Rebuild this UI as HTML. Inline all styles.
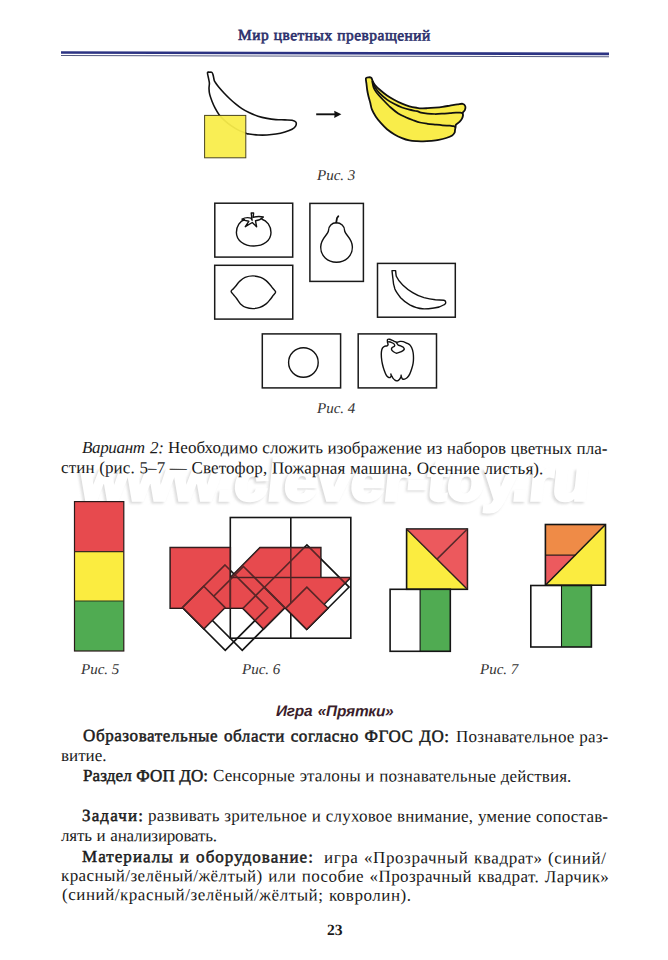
<!DOCTYPE html>
<html><head><meta charset="utf-8"><title>page</title>
<style>
html,body{margin:0;padding:0;background:#fff;}
body{width:668px;height:960px;position:relative;overflow:hidden;}
.t{position:absolute;white-space:nowrap;}

svg{position:absolute;left:0;top:0;}
b{font-weight:bold;}
</style></head><body>
<div class="t" style="left:77.4px;top:451.7px;font-family:'Liberation Sans', sans-serif;font-size:57px;font-weight:bold;font-style:normal;color:#dcdcdc;line-height:60px;-webkit-text-stroke:3.5px #dcdcdc;letter-spacing:0px;filter:blur(1.2px);transform:matrix(1.05,0,-0.1,1,0,0);transform-origin:0 49.75px;">www.clever-toy.ru</div>
<div class="t" style="left:79.0px;top:450.3px;font-family:'Liberation Sans', sans-serif;font-size:57px;font-weight:bold;font-style:normal;color:#ffffff;line-height:60px;-webkit-text-stroke:3.5px #ffffff;letter-spacing:0px;transform:matrix(1.05,0,-0.1,1,0,0);transform-origin:0 49.75px;">www.clever-toy.ru</div>
<svg width="668" height="960" viewBox="0 0 668 960">
<polygon points="61,51.2 609,52.6 609,55.2 61,53.8" fill="#2c3383"/>
<polygon points="61,54.9 609,56.3 609,57.3 61,55.9" fill="#555a80"/>
<path d="M207.50,72.60 C207.70,71.52 209.05,72.22 209.80,72.20 C210.55,72.18 211.45,72.03 212.00,72.50 C212.55,72.97 212.73,73.72 213.10,75.00 C213.47,76.28 213.85,79.00 214.20,80.20 C214.55,81.40 214.45,81.07 215.20,82.20 C215.95,83.33 217.23,85.20 218.70,87.00 C220.17,88.80 222.12,91.00 224.00,93.00 C225.88,95.00 228.02,97.13 230.00,99.00 C231.98,100.87 233.92,102.58 235.90,104.20 C237.88,105.82 239.72,107.30 241.90,108.70 C244.08,110.10 246.32,111.35 249.00,112.60 C251.68,113.85 255.00,115.23 258.00,116.20 C261.00,117.17 264.02,117.83 267.00,118.40 C269.98,118.97 272.92,119.35 275.90,119.60 C278.88,119.85 282.20,119.78 284.90,119.90 C287.60,120.02 290.27,119.92 292.10,120.30 C293.93,120.68 295.32,121.23 295.90,122.20 C296.48,123.17 296.23,124.93 295.60,126.10 C294.97,127.27 293.88,128.23 292.10,129.20 C290.32,130.17 287.60,131.10 284.90,131.90 C282.20,132.70 278.88,133.48 275.90,134.00 C272.92,134.52 269.98,134.83 267.00,135.00 C264.02,135.17 261.00,135.17 258.00,135.00 C255.00,134.83 250.93,134.27 249.00,134.00 C247.07,133.73 248.08,134.00 246.40,133.40 C244.72,132.80 241.40,131.65 238.90,130.40 C236.40,129.15 233.77,127.53 231.40,125.90 C229.03,124.27 226.75,122.47 224.70,120.60 C222.65,118.73 220.72,116.82 219.10,114.70 C217.48,112.58 216.18,110.15 215.00,107.90 C213.82,105.65 212.88,103.45 212.00,101.20 C211.12,98.95 210.20,96.52 209.70,94.40 C209.20,92.28 209.05,90.37 209.00,88.50 C208.95,86.63 209.47,84.83 209.40,83.20 C209.33,81.57 208.92,80.47 208.60,78.70 C208.28,76.93 207.30,73.68 207.50,72.60 Z" fill="none" stroke="#111" stroke-width="1.6" stroke-linejoin="round"/>
<rect x="204.6" y="115.4" width="41.2" height="42.4" fill="#f9ed4a" fill-opacity="0.94" stroke="#4a4520" stroke-width="1"/>
<line x1="316.2" y1="114.3" x2="337" y2="114.3" stroke="#111" stroke-width="1.9"/>
<polygon points="341.4,114.3 334.2,110.8 334.6,114.3 334.2,117.9" fill="#111"/>
<path d="M365.90,78.30 C366.25,77.18 367.68,77.37 368.60,77.30 C369.52,77.23 370.73,77.25 371.40,77.90 C372.07,78.55 372.00,80.02 372.60,81.20 C373.20,82.38 373.85,83.62 375.00,85.00 C376.15,86.38 377.50,87.75 379.50,89.50 C381.50,91.25 384.50,93.75 387.00,95.50 C389.50,97.25 392.00,98.63 394.50,100.00 C397.00,101.37 399.52,102.65 402.00,103.70 C404.48,104.75 406.92,105.62 409.40,106.30 C411.88,106.98 414.80,107.45 416.90,107.80 C419.00,108.15 420.23,108.33 422.00,108.40 C423.77,108.47 425.33,108.33 427.50,108.20 C429.67,108.07 432.50,107.83 435.00,107.60 C437.50,107.37 440.00,107.13 442.50,106.80 C445.00,106.47 447.52,106.00 450.00,105.60 C452.48,105.20 455.28,104.70 457.40,104.40 C459.52,104.10 461.38,103.50 462.70,103.80 C464.02,104.10 464.93,105.17 465.30,106.20 C465.67,107.23 465.30,108.92 464.90,110.00 C464.50,111.08 463.22,111.78 462.90,112.70 C462.58,113.62 463.15,114.52 463.00,115.50 C462.85,116.48 462.58,117.55 462.00,118.60 C461.42,119.65 460.50,120.80 459.50,121.80 C458.50,122.80 456.65,123.73 456.00,124.60 C455.35,125.47 455.77,126.10 455.60,127.00 C455.43,127.90 455.17,129.07 455.00,130.00 C454.83,130.93 455.07,131.70 454.60,132.60 C454.13,133.50 453.60,134.50 452.20,135.40 C450.80,136.30 448.45,137.25 446.20,138.00 C443.95,138.75 441.20,139.43 438.70,139.90 C436.20,140.37 433.82,140.57 431.20,140.80 C428.58,141.03 425.38,141.23 423.00,141.30 C420.62,141.37 419.17,141.35 416.90,141.20 C414.63,141.05 411.88,140.92 409.40,140.40 C406.92,139.88 404.48,139.10 402.00,138.10 C399.52,137.10 397.00,135.88 394.50,134.40 C392.00,132.92 389.25,131.07 387.00,129.20 C384.75,127.33 382.88,125.33 381.00,123.20 C379.12,121.07 377.20,118.65 375.70,116.40 C374.20,114.15 372.92,112.00 372.00,109.70 C371.08,107.40 370.80,104.88 370.20,102.60 C369.60,100.32 368.90,98.10 368.40,96.00 C367.90,93.90 367.52,92.00 367.20,90.00 C366.88,88.00 366.72,85.95 366.50,84.00 C366.28,82.05 365.55,79.42 365.90,78.30 Z" fill="#f9ed4a" stroke="#111" stroke-width="1.8" stroke-linejoin="round"/>
<path d="M372.40,80.80 C372.77,81.73 373.42,84.33 374.60,86.40 C375.78,88.47 377.43,91.00 379.50,93.20 C381.57,95.40 384.50,97.78 387.00,99.60 C389.50,101.42 392.00,102.78 394.50,104.10 C397.00,105.42 399.52,106.57 402.00,107.50 C404.48,108.43 406.92,109.08 409.40,109.70 C411.88,110.32 414.97,110.72 416.90,111.20 C418.83,111.68 419.23,112.20 421.00,112.60 C422.77,113.00 425.17,113.37 427.50,113.60 C429.83,113.83 432.50,113.98 435.00,114.00 C437.50,114.02 440.00,113.85 442.50,113.70 C445.00,113.55 447.75,113.28 450.00,113.10 C452.25,112.92 454.27,112.68 456.00,112.60 C457.73,112.52 459.27,112.50 460.40,112.60 C461.53,112.70 462.40,113.10 462.80,113.20" fill="none" stroke="#111" stroke-width="1.75"/>
<path d="M372.20,81.20 C372.43,82.23 372.88,85.52 373.60,87.40 C374.32,89.28 374.90,90.40 376.50,92.50 C378.10,94.60 380.83,97.50 383.20,100.00 C385.57,102.50 388.20,105.27 390.70,107.50 C393.20,109.73 395.70,111.78 398.20,113.40 C400.70,115.02 403.20,116.07 405.70,117.20 C408.20,118.33 410.82,119.32 413.20,120.20 C415.58,121.08 417.62,121.90 420.00,122.50 C422.38,123.10 425.00,123.45 427.50,123.80 C430.00,124.15 432.50,124.35 435.00,124.60 C437.50,124.85 440.00,125.12 442.50,125.30 C445.00,125.48 448.13,125.57 450.00,125.70 C451.87,125.83 452.77,125.83 453.70,126.10 C454.63,126.37 455.28,127.10 455.60,127.30" fill="none" stroke="#111" stroke-width="1.75"/>
<rect x="214.8" y="203.2" width="77.89999999999998" height="53.900000000000034" fill="none" stroke="#1a1a1a" stroke-width="1.5"/>
<rect x="309.9" y="203.4" width="53.5" height="77.99999999999997" fill="none" stroke="#1a1a1a" stroke-width="1.5"/>
<rect x="214.7" y="265.3" width="78.05000000000001" height="53.80000000000001" fill="none" stroke="#1a1a1a" stroke-width="1.5"/>
<rect x="377.5" y="263.4" width="77.80000000000001" height="53.80000000000001" fill="none" stroke="#1a1a1a" stroke-width="1.5"/>
<rect x="262.3" y="333.9" width="78.30000000000001" height="54.0" fill="none" stroke="#1a1a1a" stroke-width="1.5"/>
<rect x="358.2" y="333.9" width="78.30000000000001" height="54.0" fill="none" stroke="#1a1a1a" stroke-width="1.5"/>
<path d="M245,219.5 C240,221 236.4,226 236.4,232.5 C236.4,240.5 244,246 253.7,246 C263.5,246 271,240.5 271,232.5 C271,226 267,220.5 261.5,219" fill="none" stroke="#111" stroke-width="1.4" stroke-linejoin="round"/>
<path d="M252.1,220.3 L251.2,213 L253.6,213 L253.2,217.3 C256,216.5 260,216.2 263.3,217 C261,219.5 258,220.5 255.5,220.8 L256.6,226.7 L252.3,222.5 L245.3,226.7 L248.8,221.3 C246,220.8 244,220.3 242,219.2 C245,217.5 248.5,217.4 251,218.2 Z" fill="none" stroke="#111" stroke-width="1.4" stroke-linejoin="round"/>
<path d="M336.2,222.8 C341,222.8 344.6,226 344.6,230.5 C344.6,234.5 352.4,238 352.4,247 C352.4,256 345.5,262.2 336.5,262.2 C327.5,262.2 320.7,256 320.7,247 C320.7,238 328.5,234.5 328.5,230.5 C328.5,226 332,222.8 336.2,222.8 Z" fill="none" stroke="#111" stroke-width="1.4" stroke-linejoin="round"/>
<path d="M336.2,222.6 L337,218 L338.3,216.2" fill="none" stroke="#111" stroke-width="1.8" stroke-linecap="round"/>
<path d="M231.10,291.50 C231.10,290.52 232.62,289.62 233.40,288.70 C234.18,287.78 234.75,287.23 235.80,286.00 C236.85,284.77 238.15,282.73 239.70,281.30 C241.25,279.87 242.90,278.30 245.10,277.40 C247.30,276.50 250.30,275.90 252.90,275.90 C255.50,275.90 258.50,276.62 260.70,277.40 C262.90,278.18 264.55,279.37 266.10,280.60 C267.65,281.83 268.88,283.52 270.00,284.80 C271.12,286.08 271.87,287.12 272.80,288.30 C273.73,289.48 275.53,290.72 275.60,291.90 C275.67,293.08 274.07,294.18 273.20,295.40 C272.33,296.62 271.58,297.78 270.40,299.20 C269.22,300.62 267.85,302.53 266.10,303.90 C264.35,305.27 262.10,306.62 259.90,307.40 C257.70,308.18 255.23,308.60 252.90,308.60 C250.57,308.60 247.97,308.18 245.90,307.40 C243.83,306.62 242.05,305.38 240.50,303.90 C238.95,302.42 237.78,300.05 236.60,298.50 C235.42,296.95 234.32,295.77 233.40,294.60 C232.48,293.43 231.10,292.48 231.10,291.50 Z" fill="none" stroke="#111" stroke-width="1.4" stroke-linejoin="round"/>
<path d="M392,270.6 L395.6,270.6 C395.8,273 396,275 396.3,276.3 C398,280 400,282.5 402.7,284.9 C406,288 409,290.5 412.7,292.7 C416,294.8 420,296.5 424,297.7 C428,298.8 431.5,299.4 435.4,299.8 C439,300 442,300 443.9,300.2 C446,300.6 446.5,303.5 444.5,304.5 C441,306.8 437,307.8 434,308 C429,308.7 426,309 422.6,308.8 C418,308.5 414,307 409.8,304.8 C406,302.5 403,300.3 400.6,297.7 C398,294.5 396,292 394.9,289.1 C393.5,285 393,281 392.8,277.8 C392.5,275 392.2,272.5 392,270.6 Z" fill="none" stroke="#111" stroke-width="1.4" stroke-linejoin="round"/>
<circle cx="303.4" cy="362.5" r="14.8" fill="none" stroke="#111" stroke-width="1.4" stroke-linejoin="round"/>
<path d="M387.50,339.70 C387.83,339.17 388.67,339.08 389.50,339.20 C390.33,339.32 391.55,339.98 392.50,340.40 C393.45,340.82 394.42,341.38 395.20,341.70 C395.98,342.02 396.42,342.35 397.20,342.30 C397.98,342.25 398.88,341.52 399.90,341.40 C400.92,341.28 402.17,341.32 403.30,341.60 C404.43,341.88 405.63,342.57 406.70,343.10 C407.77,343.63 408.87,344.02 409.70,344.80 C410.53,345.58 411.13,346.52 411.70,347.80 C412.27,349.08 412.80,350.82 413.10,352.50 C413.40,354.18 413.50,356.10 413.50,357.90 C413.50,359.70 413.40,361.50 413.10,363.30 C412.80,365.10 412.27,366.90 411.70,368.70 C411.13,370.50 410.43,372.63 409.70,374.10 C408.97,375.57 408.15,376.67 407.30,377.50 C406.45,378.33 405.43,378.88 404.60,379.10 C403.77,379.32 402.85,379.18 402.30,378.80 C401.75,378.42 401.70,376.80 401.30,376.80 C400.90,376.80 400.52,378.13 399.90,378.80 C399.28,379.47 398.43,380.58 397.60,380.80 C396.77,381.02 395.68,380.55 394.90,380.10 C394.12,379.65 393.47,378.82 392.90,378.10 C392.33,377.38 391.95,375.90 391.50,375.80 C391.05,375.70 390.77,377.28 390.20,377.50 C389.63,377.72 388.78,377.55 388.10,377.10 C387.42,376.65 386.77,375.98 386.10,374.80 C385.43,373.62 384.72,371.80 384.10,370.00 C383.48,368.20 382.85,366.13 382.40,364.00 C381.95,361.87 381.57,359.23 381.40,357.20 C381.23,355.17 381.23,353.32 381.40,351.80 C381.57,350.28 381.90,349.02 382.40,348.10 C382.90,347.18 383.62,346.68 384.40,346.30 C385.18,345.92 386.48,346.12 387.10,345.80 C387.72,345.48 388.03,344.97 388.10,344.40 C388.17,343.83 387.60,343.18 387.50,342.40 C387.40,341.62 387.17,340.23 387.50,339.70 Z" fill="none" stroke="#111" stroke-width="1.4" stroke-linejoin="round"/>
<path d="M388.10,341.70 C388.62,341.82 390.18,342.00 391.20,342.40 C392.22,342.80 393.65,343.48 394.20,344.10 C394.75,344.72 394.83,345.53 394.50,346.10 C394.17,346.67 392.70,346.93 392.20,347.50 C391.70,348.07 391.28,348.78 391.50,349.50 C391.72,350.22 392.65,351.18 393.50,351.80 C394.35,352.42 395.53,353.13 396.60,353.20 C397.67,353.27 398.90,352.60 399.90,352.20 C400.90,351.80 401.87,351.30 402.60,350.80 C403.33,350.30 404.23,349.82 404.30,349.20 C404.37,348.58 403.62,347.67 403.00,347.10 C402.38,346.53 401.40,346.13 400.60,345.80 C399.80,345.47 398.82,345.50 398.20,345.10 C397.58,344.70 397.28,343.88 396.90,343.40 C396.52,342.92 396.07,342.40 395.90,342.20" fill="none" stroke="#111" stroke-width="1.4" stroke-linejoin="round"/>
<path d="M401.3,376.8 L401.0,374.6 M391.5,375.8 L390.6,373.6" fill="none" stroke="#111" stroke-width="1.4" stroke-linejoin="round"/>
<rect x="74.5" y="501.6" width="49.3" height="50" fill="#e74a4e"/>
<rect x="74.5" y="551.6" width="49.3" height="49.4" fill="#fbec40"/>
<rect x="74.5" y="601" width="49.3" height="50" fill="#50ab52"/>
<rect x="74.5" y="501.6" width="49.3" height="149.4" fill="none" stroke="#2a1a1a" stroke-width="1.2"/>
<line x1="74.5" y1="551.6" x2="123.8" y2="551.6" stroke="#3a2a20" stroke-width="1.1"/>
<line x1="74.5" y1="601" x2="123.8" y2="601" stroke="#2a3a20" stroke-width="1.1"/>
<polygon points="200.00,577.60 350.60,577.60 320.20,608.20 200.00,608.20" fill="#e74a4e"/>
<polyline points="350.6,577.6 320.2,608.2 200,608.2" fill="none" stroke="#151515" stroke-width="1.6"/>
<polygon points="170.20,547.50 230.30,547.50 230.30,608.20 170.20,608.20" fill="#e74a4e" stroke="#151515" stroke-width="1.6" stroke-linejoin="miter"/>
<polygon points="260.00,547.60 320.80,547.60 320.80,577.60 230.30,577.60" fill="#e74a4e"/>
<polyline points="230.3,577.6 260.0,547.6 320.8,547.6 320.8,577.6" fill="none" stroke="#151515" stroke-width="1.6"/>
<rect x="230.3" y="517.5" width="120.5" height="120.70000000000005" fill="none" stroke="#151515" stroke-width="1.6"/>
<line x1="290.8" y1="517.5" x2="290.8" y2="638.2" stroke="#151515" stroke-width="1.6"/>
<line x1="230.3" y1="577.6" x2="350.8" y2="577.6" stroke="#151515" stroke-width="1.5"/>
<polygon points="264.12,587.12 284.75,607.75 263.50,629.00 242.88,608.38" fill="#e74a4e" stroke="#151515" stroke-width="1.6" stroke-linejoin="miter"/>
<polygon points="243.50,566.50 284.75,607.75 242.25,650.25 201.00,609.00" fill="none" stroke="#151515" stroke-width="1.6" stroke-linejoin="miter"/>
<polygon points="203.75,586.25 225.12,607.62 203.88,628.88 182.50,607.50" fill="#e74a4e" stroke="#151515" stroke-width="1.6" stroke-linejoin="miter"/>
<polygon points="225.00,565.00 267.75,607.75 225.25,650.25 182.50,607.50" fill="none" stroke="#151515" stroke-width="1.6" stroke-linejoin="miter"/>
<polygon points="306.82,587.17 327.93,608.28 306.75,629.45 285.65,608.35" fill="#e74a4e" stroke="#151515" stroke-width="1.6" stroke-linejoin="miter"/>
<polygon points="306.90,544.90 349.10,587.10 306.75,629.45 264.55,587.25" fill="none" stroke="#151515" stroke-width="1.6" stroke-linejoin="miter"/>
<g opacity="0.33"><polygon points="200.00,577.60 350.60,577.60 320.20,608.20 200.00,608.20" fill="#e74a4e"/><polygon points="170.20,547.50 230.30,547.50 230.30,608.20 170.20,608.20" fill="#e74a4e"/><polygon points="260.00,547.60 320.80,547.60 320.80,577.60 230.30,577.60" fill="#e74a4e"/><polygon points="264.12,587.12 284.75,607.75 263.50,629.00 242.88,608.38" fill="#e74a4e"/><polygon points="203.75,586.25 225.12,607.62 203.88,628.88 182.50,607.50" fill="#e74a4e"/><polygon points="306.82,587.17 327.93,608.28 306.75,629.45 285.65,608.35" fill="#e74a4e"/></g>
<polygon points="406.60,529.00 467.40,589.30 406.60,589.30" fill="#fbec40"/>
<polygon points="406.60,529.00 467.40,529.00 467.40,589.30" fill="#ec5a5e"/>
<rect x="406.6" y="529.0" width="60.799999999999955" height="60.299999999999955" fill="none" stroke="#151515" stroke-width="1.6"/>
<line x1="406.6" y1="529.0" x2="467.4" y2="589.3" stroke="#151515" stroke-width="1.5"/>
<line x1="467.4" y1="529.0" x2="437.0" y2="559.15" stroke="#151515" stroke-width="1.5"/>
<g opacity="0.3"><polygon points="406.60,529.00 467.40,529.00 467.40,589.30" fill="#ec5a5e"/></g>
<rect x="420.1" y="589.3" width="30.19999999999999" height="62.0" fill="#50ab52"/>
<rect x="390.1" y="589.3" width="60.19999999999999" height="62.0" fill="none" stroke="#151515" stroke-width="1.6"/>
<line x1="420.1" y1="589.3" x2="420.1" y2="651.3" stroke="#151515" stroke-width="1.1"/>
<polygon points="545.40,585.20 605.50,524.50 605.50,585.20" fill="#fbec40"/>
<polygon points="545.40,524.50 605.50,524.50 575.50,555.10 545.40,555.10" fill="#ef8b47"/>
<polygon points="545.40,555.10 575.50,555.10 545.40,585.20" fill="#ec5a5e"/>
<rect x="545.4" y="524.5" width="60.10000000000002" height="60.700000000000045" fill="none" stroke="#151515" stroke-width="1.6"/>
<line x1="545.4" y1="585.2" x2="605.5" y2="524.5" stroke="#151515" stroke-width="1.5"/>
<line x1="545.4" y1="555.1" x2="575.5" y2="555.1" stroke="#151515" stroke-width="1.1"/>
<rect x="561.5" y="585.5" width="29.899999999999977" height="61.5" fill="#50ab52"/>
<rect x="530.8" y="585.5" width="60.60000000000002" height="61.5" fill="none" stroke="#151515" stroke-width="1.6"/>
<line x1="561.5" y1="585.5" x2="561.5" y2="647.0" stroke="#151515" stroke-width="1.1"/>
</svg>
<div class="t b j" style="left:238.40px;top:25.01px;font-family:'Liberation Serif', serif;font-size:15.4px;line-height:20.02px;font-weight:normal;font-style:normal;color:#2b2f6b;width:192.80px;text-align:justify;text-align-last:justify;letter-spacing:0.502px;transform:rotate(0.14deg);transform-origin:0px 15.21px;-webkit-text-stroke:0.65px #2b2f6b;">Мир цветных превращений</div>
<div class="t b" style="left:317.40px;top:165.90px;font-family:'Liberation Serif', serif;font-size:15px;line-height:19.5px;font-weight:normal;font-style:italic;color:#333;transform:rotate(0.14deg);transform-origin:0px 14.81px;">Рис. 3</div>
<div class="t b" style="left:317.00px;top:398.90px;font-family:'Liberation Serif', serif;font-size:15px;line-height:19.5px;font-weight:normal;font-style:italic;color:#333;transform:rotate(0.14deg);transform-origin:0px 14.81px;">Рис. 4</div>
<div class="t b j" style="left:82.00px;top:437.01px;font-family:'Liberation Serif', serif;font-size:17px;line-height:22.1px;font-weight:normal;font-style:italic;color:#1a1a1a;width:81.60px;text-align:justify;text-align-last:justify;letter-spacing:-0.342px;transform:rotate(0.14deg);transform-origin:0px 16.79px;">Вариант 2:</div>
<div class="t b j" style="left:168.40px;top:437.22px;font-family:'Liberation Serif', serif;font-size:17px;line-height:22.1px;font-weight:normal;font-style:normal;color:#1a1a1a;width:439.60px;text-align:justify;text-align-last:justify;letter-spacing:0.073px;transform:rotate(0.14deg);transform-origin:0px 16.79px;">Необходимо сложить изображение из наборов цветных пла-</div>
<div class="t b j" style="left:60.50px;top:456.61px;font-family:'Liberation Serif', serif;font-size:17px;line-height:22.1px;font-weight:normal;font-style:normal;color:#1a1a1a;width:482.50px;text-align:justify;text-align-last:justify;letter-spacing:0.123px;transform:rotate(0.14deg);transform-origin:0px 16.79px;">стин (рис. 5–7 — Светофор, Пожарная машина, Осенние листья).</div>
<div class="t b" style="left:81.00px;top:659.81px;font-family:'Liberation Serif', serif;font-size:15px;line-height:19.5px;font-weight:normal;font-style:italic;color:#333;transform:rotate(0.14deg);transform-origin:0px 14.81px;">Рис. 5</div>
<div class="t b" style="left:241.80px;top:659.81px;font-family:'Liberation Serif', serif;font-size:15px;line-height:19.5px;font-weight:normal;font-style:italic;color:#333;transform:rotate(0.14deg);transform-origin:0px 14.81px;">Рис. 6</div>
<div class="t b" style="left:479.60px;top:660.00px;font-family:'Liberation Serif', serif;font-size:15px;line-height:19.5px;font-weight:normal;font-style:italic;color:#333;transform:rotate(0.14deg);transform-origin:0px 14.81px;">Рис. 7</div>
<div class="t b j" style="left:275.70px;top:701.30px;font-family:'Liberation Sans', sans-serif;font-size:15.4px;line-height:20.02px;font-weight:bold;font-style:italic;color:#3b1e2b;width:117.40px;text-align:justify;text-align-last:justify;letter-spacing:-0.243px;transform:rotate(0.14deg);transform-origin:0px 15.35px;">Игра «Прятки»</div>
<div class="t b j" style="left:82.60px;top:725.01px;font-family:'Liberation Serif', serif;font-size:17px;line-height:22.1px;font-weight:normal;font-style:normal;color:#1a1a1a;width:366.60px;text-align:justify;text-align-last:justify;letter-spacing:0.599px;transform:rotate(0.14deg);transform-origin:0px 16.79px;-webkit-text-stroke:0.5px #1a1a1a;">Образовательные области согласно ФГОС ДО:</div>
<div class="t b j" style="left:455.60px;top:725.92px;font-family:'Liberation Serif', serif;font-size:17px;line-height:22.1px;font-weight:normal;font-style:normal;color:#1a1a1a;width:152.50px;text-align:justify;text-align-last:justify;letter-spacing:0.215px;transform:rotate(0.14deg);transform-origin:0px 16.79px;">Познавательное раз-</div>
<div class="t b" style="left:60.50px;top:745.01px;font-family:'Liberation Serif', serif;font-size:17px;line-height:22.1px;font-weight:normal;font-style:normal;color:#1a1a1a;transform:rotate(0.14deg);transform-origin:0px 16.79px;">витие.</div>
<div class="t b j" style="left:82.60px;top:765.01px;font-family:'Liberation Serif', serif;font-size:17px;line-height:22.1px;font-weight:normal;font-style:normal;color:#1a1a1a;width:125.20px;text-align:justify;text-align-last:justify;letter-spacing:0.123px;transform:rotate(0.14deg);transform-origin:0px 16.79px;-webkit-text-stroke:0.5px #1a1a1a;">Раздел ФОП ДО:</div>
<div class="t b j" style="left:213.20px;top:765.33px;font-family:'Liberation Serif', serif;font-size:17px;line-height:22.1px;font-weight:normal;font-style:normal;color:#1a1a1a;width:358.50px;text-align:justify;text-align-last:justify;letter-spacing:0.137px;transform:rotate(0.14deg);transform-origin:0px 16.79px;">Сенсорные эталоны и познавательные действия.</div>
<div class="t b j" style="left:82.00px;top:805.20px;font-family:'Liberation Serif', serif;font-size:17px;line-height:22.1px;font-weight:normal;font-style:normal;color:#1a1a1a;width:62.00px;text-align:justify;text-align-last:justify;letter-spacing:1.150px;transform:rotate(0.14deg);transform-origin:0px 16.79px;-webkit-text-stroke:0.5px #1a1a1a;">Задачи:</div>
<div class="t b j" style="left:148.10px;top:805.38px;font-family:'Liberation Serif', serif;font-size:17px;line-height:22.1px;font-weight:normal;font-style:normal;color:#1a1a1a;width:460.20px;text-align:justify;text-align-last:justify;letter-spacing:0.183px;transform:rotate(0.14deg);transform-origin:0px 16.79px;">развивать зрительное и слуховое внимание, умение сопостав-</div>
<div class="t b j" style="left:60.50px;top:825.41px;font-family:'Liberation Serif', serif;font-size:17px;line-height:22.1px;font-weight:normal;font-style:normal;color:#1a1a1a;width:155.90px;text-align:justify;text-align-last:justify;letter-spacing:-0.179px;transform:rotate(0.14deg);transform-origin:0px 16.79px;">лять и анализировать.</div>
<div class="t b j" style="left:82.00px;top:846.01px;font-family:'Liberation Serif', serif;font-size:17px;line-height:22.1px;font-weight:normal;font-style:normal;color:#1a1a1a;width:231.90px;text-align:justify;text-align-last:justify;letter-spacing:1.037px;transform:rotate(0.14deg);transform-origin:0px 16.79px;-webkit-text-stroke:0.5px #1a1a1a;">Материалы и оборудование:</div>
<div class="t b j" style="left:323.80px;top:846.59px;font-family:'Liberation Serif', serif;font-size:17px;line-height:22.1px;font-weight:normal;font-style:normal;color:#1a1a1a;width:282.50px;text-align:justify;text-align-last:justify;letter-spacing:0.592px;transform:rotate(0.14deg);transform-origin:0px 16.79px;">игра «Прозрачный квадрат» (синий/</div>
<div class="t b j" style="left:61.00px;top:864.70px;font-family:'Liberation Serif', serif;font-size:17px;line-height:22.1px;font-weight:normal;font-style:normal;color:#1a1a1a;width:548.30px;text-align:justify;text-align-last:justify;letter-spacing:0.411px;transform:rotate(0.14deg);transform-origin:0px 16.79px;">красный/зелёный/жёлтый) или пособие «Прозрачный квадрат. Ларчик»</div>
<div class="t b j" style="left:62.00px;top:883.51px;font-family:'Liberation Serif', serif;font-size:17px;line-height:22.1px;font-weight:normal;font-style:normal;color:#1a1a1a;width:349.50px;text-align:justify;text-align-last:justify;letter-spacing:0.529px;transform:rotate(0.14deg);transform-origin:0px 16.79px;">(синий/красный/зелёный/жёлтый; ковролин).</div>
<div class="t b" style="left:326.80px;top:920.31px;font-family:'Liberation Serif', serif;font-size:15.6px;line-height:20.28px;font-weight:bold;font-style:normal;color:#1a1a1a;transform:rotate(0.14deg);transform-origin:0px 15.40px;">23</div>
</body></html>
